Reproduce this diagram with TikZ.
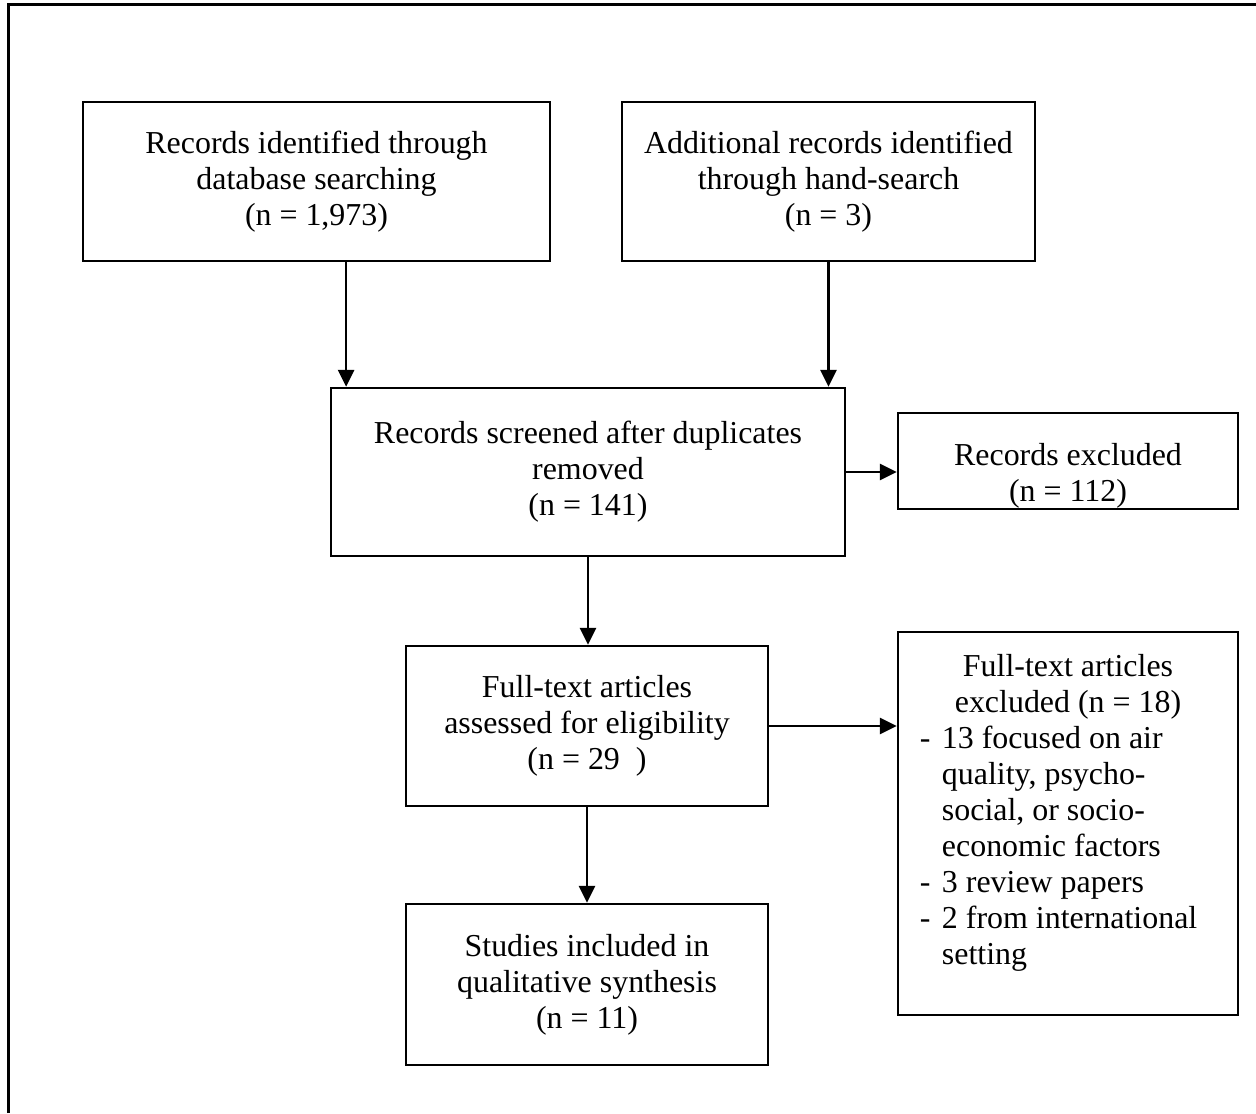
\documentclass[tikz,border=0pt]{standalone}
\usepackage{fontspec}
\setmainfont{Liberation Serif}
\usetikzlibrary{arrows.meta,positioning}
\tikzset{
 box/.style={draw, line width=0.065cm, align=center, inner sep=0pt},
 arr/.style={line width=0.065cm, -{Triangle[length=0.42cm,width=0.4cm]}}
}
\newcommand{\dashitem}{\makebox[0.55cm][l]{-}}
\newcommand{\dashgap}{\hspace*{0.55cm}}
\begin{document}
\begin{tikzpicture}[x=0.025cm,y=-0.025cm,font=\fontsize{22.7}{25.6}\selectfont]
\useasboundingbox (0,0) rectangle (1256,1113);
% frame
\draw[line width=0.065cm] (8.5,1113) -- (8.5,4.5) -- (1256,4.5);

% identification
\node[box, minimum width=11.675cm, minimum height=3.975cm] (ident) at (316.5,181.5)
 {Records identified through\\database searching\\(n = 1,973)};
\node[box, minimum width=10.325cm, minimum height=3.975cm] (hand) at (828.5,181.5)
 {Additional records identified\\through hand-search\\(n = 3)};

% screening
\node[box, minimum width=12.85cm, minimum height=4.2cm] (screen) at (588,472)
 {Records screened after duplicates\\removed\\(n = 141)};
\node[box, minimum width=8.5cm, minimum height=2.4cm] (excl) at (1068,461)
 {\rule{0pt}{1.3cm}Records excluded\\(n = 112)};

% eligibility
\node[box, minimum width=9.05cm, minimum height=4cm] (assess) at (587,726)
 {Full-text articles\\assessed for eligibility\\(n = 29\ \ )};
\node[box, minimum width=8.5cm, minimum height=9.575cm, text width=7.4cm, align=left] (ftexcl) at (1068,823.5)
 {\spaceskip=0pt\xspaceskip=0pt
 {\centering Full-text articles\\excluded (n = 18)\par}
 \dashitem 13 focused on air\\
 \dashgap quality, psycho-\\
 \dashgap social, or socio-\\
 \dashgap economic factors\\
 \dashitem 3 review papers\\
 \dashitem 2 from international\\
 \dashgap setting\rule[-0.68cm]{0pt}{0.68cm}};

% included
\node[box, minimum width=9.05cm, minimum height=4.025cm] (incl) at (587,984.5)
 {Studies included in\\qualitative synthesis\\(n = 11)};

\draw[arr] ([xshift=0.74cm]ident.south) -- ([xshift=0.74cm]ident.south |- screen.north);
\draw[arr] (hand.south) -- (hand.south |- screen.north);
\draw[arr] (screen.east) -- (screen.east -| excl.west);
\draw[arr] (screen.south) -- (screen.south |- assess.north);
\draw[arr] (assess.east) -- (assess.east -| ftexcl.west);
\draw[arr] (assess.south) -- (incl.north);
\end{tikzpicture}
\end{document}
